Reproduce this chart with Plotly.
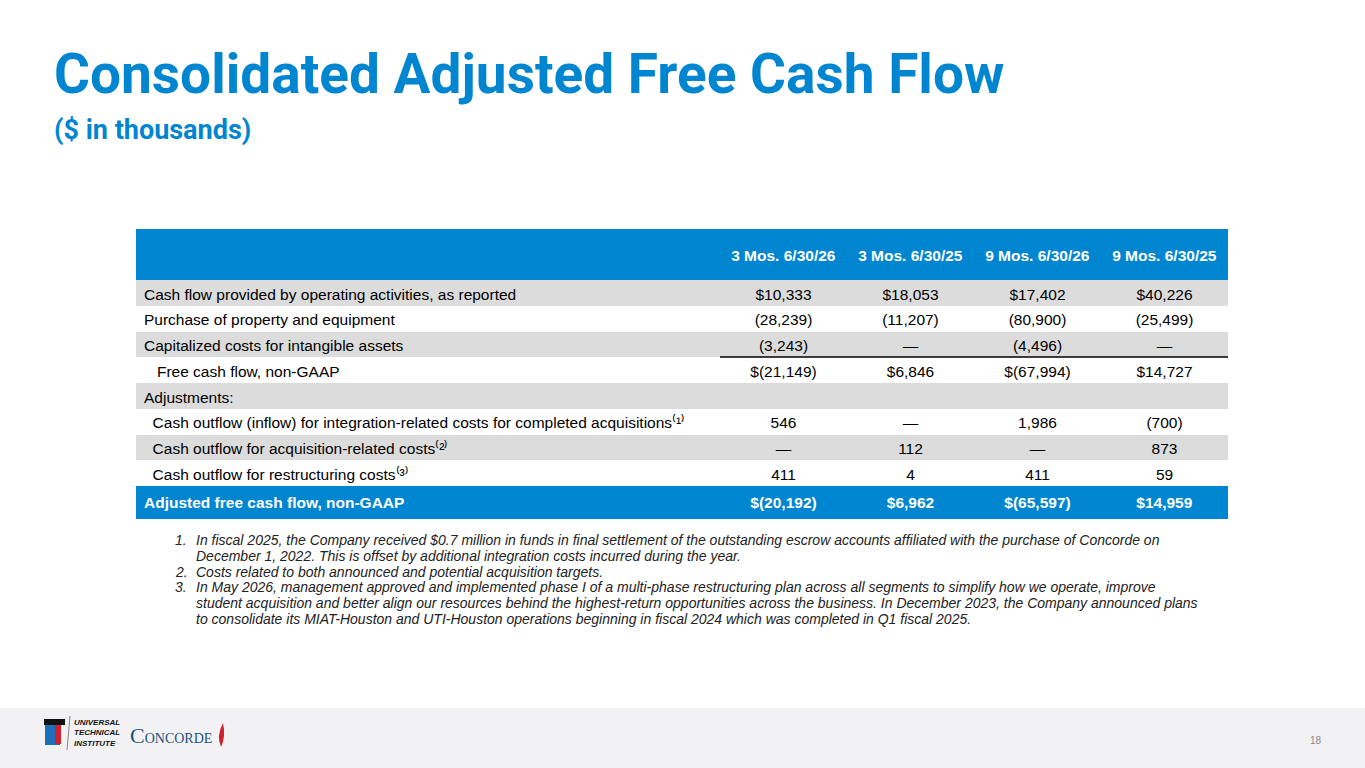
import plotly.graph_objects as go

W, H = 1365, 768

BLUE = "#0086D1"
GRAY = "#DCDCDC"
NB = "\u00a0"
SANS = "Liberation Sans, Arial, sans-serif"
TITLE_FONT = "Roboto, Liberation Sans, sans-serif"

# table data
col_headers = ["3 Mos. 6/30/26", "3 Mos. 6/30/25", "9 Mos. 6/30/26", "9 Mos. 6/30/25"]
row_labels = [
    "Cash flow provided by operating activities, as reported",
    "Purchase of property and equipment",
    "Capitalized costs for intangible assets",
    NB * 3 + "Free cash flow, non-GAAP",
    "Adjustments:",
    NB * 2 + "Cash outflow (inflow) for integration-related costs for completed acquisitions⁽¹⁾",
    NB * 2 + "Cash outflow for acquisition-related costs⁽²⁾",
    NB * 2 + "Cash outflow for restructuring costs⁽³⁾",
    "<b>Adjusted free cash flow, non-GAAP</b>",
]
q3_fy26 = ["$10,333", "(28,239)", "(3,243)", "$(21,149)", "", "546", "—", "411", "<b>$(20,192)</b>"]
q3_fy25 = ["$18,053", "(11,207)", "—", "$6,846", "", "—", "112", "4", "<b>$6,962</b>"]
m9_fy26 = ["$17,402", "(80,900)", "(4,496)", "$(67,994)", "", "1,986", "—", "411", "<b>$(65,597)</b>"]
m9_fy25 = ["$40,226", "(25,499)", "—", "$14,727", "", "(700)", "873", "59", "<b>$14,959</b>"]

footnote_nums = ["1.", "", "2.", "3.", "", ""]
footnote_lines = [
    "In fiscal 2025, the Company received $0.7 million in funds in final settlement of the outstanding escrow accounts affiliated with the purchase of Concorde on",
    "December 1, 2022. This is offset by additional integration costs incurred during the year.",
    "Costs related to both announced and potential acquisition targets.",
    "In May 2026, management approved and implemented phase I of a multi-phase restructuring plan across all segments to simplify how we operate, improve",
    "student acquisition and better align our resources behind the highest-return opportunities across the business. In December 2023, the Company announced plans",
    "to consolidate its MIAT-Houston and UTI-Houston operations beginning in fiscal 2024 which was completed in Q1 fiscal 2025.",
]


def px(x):
    return x / W


def py(y):
    return 1 - y / H


n = len(row_labels)
row_fill = [GRAY if i % 2 == 0 else "white" for i in range(n - 1)] + [BLUE]
row_font = ["black"] * (n - 1) + ["white"]

fig = go.Figure()
fig.add_trace(go.Table(
    domain=dict(x=[px(136), px(1228)], y=[py(545), py(239)]),
    columnwidth=[584, 127, 127, 127, 127],
    header=dict(
        values=[""] + ["<b>" + h + "</b>" for h in col_headers],
        fill_color=BLUE, line=dict(color=BLUE, width=0),
        font=dict(family=SANS, size=15.5, color="white"),
        align=["left", "center", "center", "center", "center"],
        height=41,
    ),
    cells=dict(
        values=[row_labels, q3_fy26, q3_fy25, m9_fy26, m9_fy25],
        fill_color=[row_fill] * 5,
        line=dict(color=[row_fill] * 5, width=0),
        font=dict(family=SANS, size=15.5, color=[row_font] * 5),
        align=["left", "center", "center", "center", "center"],
        height=25.75,
    ),
))

shapes = [
    # top strip of the header band
    dict(type="rect", xref="paper", yref="paper", x0=px(136), x1=px(1228), y0=py(239.5), y1=py(229),
         fillcolor=BLUE, line=dict(width=0)),
    # subtotal rule
    dict(type="line", xref="paper", yref="paper", x0=px(720), x1=px(1228), y0=py(357), y1=py(357),
         line=dict(color="black", width=1.5)),
    # footer band
    dict(type="rect", xref="paper", yref="paper", x0=0, x1=1, y0=0, y1=py(708),
         fillcolor="#F2F2F4", line=dict(width=0), layer="below"),
    # UTI mark
    dict(type="rect", xref="paper", yref="paper", x0=px(45), x1=px(60), y0=py(745), y1=py(725),
         fillcolor="#1B6FB8", line=dict(width=0)),
    dict(type="rect", xref="paper", yref="paper", x0=px(44), x1=px(65), y0=py(725), y1=py(719),
         fillcolor="#111111", line=dict(width=0)),
    dict(type="rect", xref="paper", yref="paper", x0=px(55), x1=px(61), y0=py(744), y1=py(725),
         fillcolor="#D0202E", line=dict(width=0)),
    dict(type="line", xref="paper", yref="paper", x0=px(70), x1=px(67), y0=py(716), y1=py(750),
         line=dict(color="#888888", width=1)),
    # Concorde flame
    dict(type="path", xref="paper", yref="paper",
         path="M {} {} Q {} {} {} {} Q {} {} {} {} Z".format(px(221), py(747), px(216), py(736), px(223), py(723),
                                                           px(226), py(737), px(221), py(747)),
         fillcolor="#D0202E", line=dict(width=0)),
]

annotations = [
    dict(text="<b>Consolidated Adjusted Free Cash Flow</b>", x=px(52), y=py(74), xanchor="left", yanchor="middle",
         font=dict(family=TITLE_FONT, size=55, color=BLUE)),
    dict(text="<b>($ in thousands)</b>", x=px(52), y=py(130), xanchor="left", yanchor="middle",
         font=dict(family=TITLE_FONT, size=27, color=BLUE)),
    dict(text="<b><i>UNIVERSAL<br>TECHNICAL<br>INSTITUTE</i></b>", x=px(72), y=py(733), xanchor="left",
         yanchor="middle", align="left",
         font=dict(family=SANS, size=8, color="#111111")),
    dict(text="<span style='font-size:22px'>C</span>ONCORDE", x=px(128), y=py(735), xanchor="left",
         yanchor="middle",
         font=dict(family="Liberation Serif, serif", size=14, color="#1F4F7F")),
    dict(text="18", x=px(1316), y=py(740), xanchor="center", yanchor="middle",
         font=dict(family=SANS, size=10, color="#8A8A8A")),
]

fn_y = [540, 555.5, 571.5, 587, 603, 619]
for num, line, y in zip(footnote_nums, footnote_lines, fn_y):
    if num:
        annotations.append(dict(text="<i>" + num + "</i>", x=px(173), y=py(y), xanchor="left", yanchor="middle",
                                font=dict(family=SANS, size=14, color="#222222")))
    annotations.append(dict(text="<i>" + line + "</i>", x=px(194), y=py(y), xanchor="left", yanchor="middle",
                            font=dict(family=SANS, size=14, color="#222222")))

for a in annotations:
    a.update(xref="paper", yref="paper", showarrow=False)

fig.update_layout(
    width=W, height=H,
    margin=dict(l=0, r=0, t=0, b=0),
    paper_bgcolor="white", plot_bgcolor="white",
    shapes=shapes, annotations=annotations,
)

fig.write_html("out.html", config={"displayModeBar": False},
               post_script="document.body.style.margin = '0';")
